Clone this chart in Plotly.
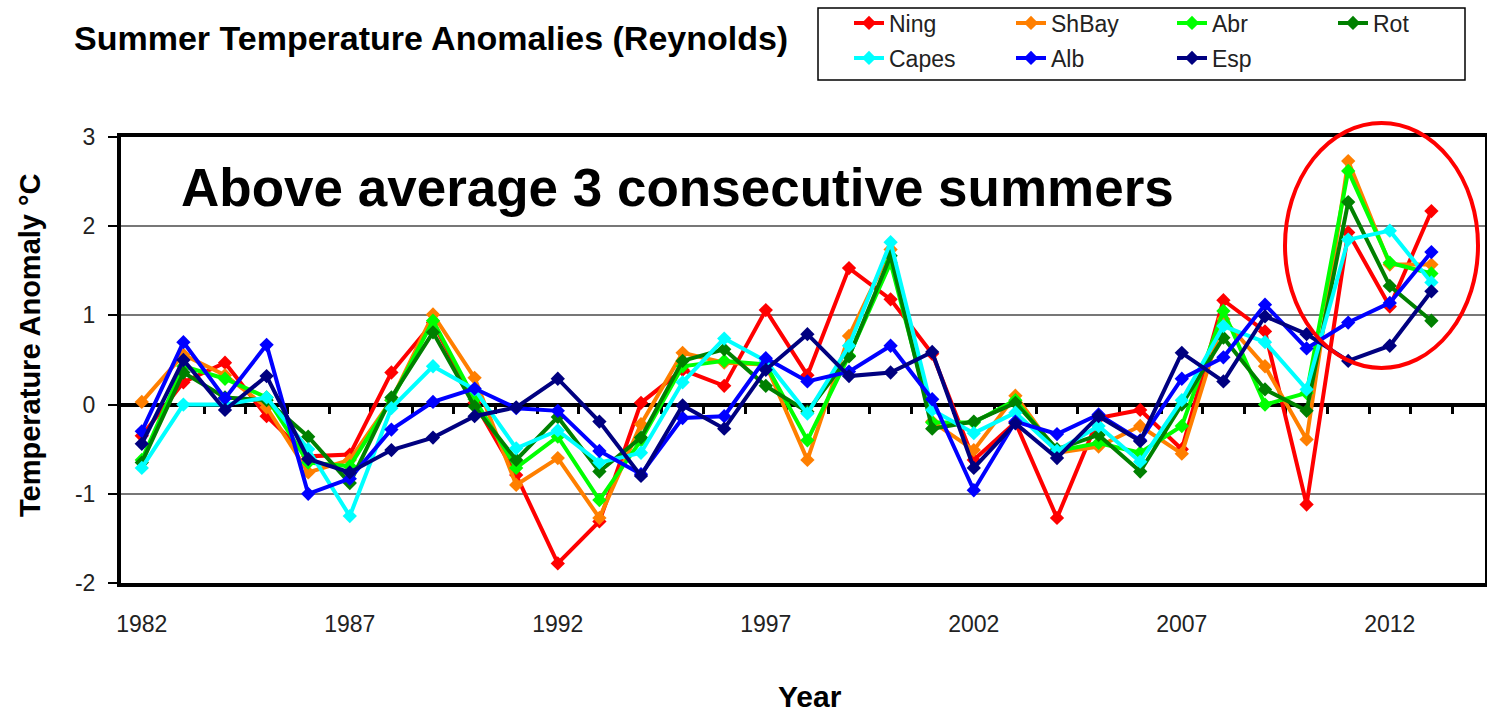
import plotly.graph_objects as go

YEARS = [1982, 1983, 1984, 1985, 1986, 1987, 1988, 1989, 1990, 1991, 1992,
         1993, 1994, 1995, 1996, 1997, 1998, 1999, 2000, 2001, 2002, 2003,
         2004, 2005, 2006, 2007, 2008, 2009, 2010, 2011, 2012, 2013]

NING = [-0.35, 0.25, 0.47, -0.13, -0.58, -0.56, 0.36, 0.92, 0.02, -0.79, -1.78,
        -1.31, 0.02, 0.39, 0.21, 1.06, 0.33, 1.53, 1.18, 0.57, -0.62, -0.20,
        -1.27, -0.15, -0.06, -0.50, 1.17, 0.82, -1.12, 1.93, 1.10, 2.17]
SHBAY = [0.03, 0.56, 0.33, -0.03, -0.76, -0.62, 0.05, 1.01, 0.30, -0.90, -0.60,
         -1.27, -0.22, 0.58, 0.47, 0.45, -0.62, 0.77, 1.74, -0.19, -0.51, 0.10,
         -0.54, -0.47, -0.24, -0.55, 0.96, 0.43, -0.39, 2.73, 1.57, 1.57]
ABR = [-0.62, 0.43, 0.29, 0.08, -0.65, -0.69, 0.05, 0.94, 0.06, -0.71, -0.36,
       -1.07, -0.40, 0.43, 0.49, 0.45, -0.40, 0.55, 1.59, -0.20, -0.20, 0.05,
       -0.52, -0.43, -0.54, -0.24, 1.05, 0.00, 0.13, 2.62, 1.59, 1.47]
ROT = [-0.65, 0.36, 0.08, 0.05, -0.36, -0.88, 0.08, 0.81, -0.02, -0.62, -0.14,
       -0.75, -0.37, 0.49, 0.62, 0.21, -0.08, 0.54, 1.67, -0.27, -0.19, 0.02,
       -0.50, -0.34, -0.75, 0.00, 0.75, 0.17, -0.07, 2.27, 1.33, 0.94]
CAPES = [-0.71, 0.00, 0.00, 0.08, -0.50, -1.25, -0.04, 0.43, 0.17, -0.49, -0.29,
         -0.65, -0.54, 0.25, 0.74, 0.49, -0.10, 0.66, 1.82, -0.06, -0.32, -0.09,
         -0.52, -0.24, -0.64, 0.05, 0.88, 0.70, 0.17, 1.85, 1.95, 1.37]
ALB = [-0.30, 0.70, 0.07, 0.67, -1.00, -0.83, -0.28, 0.03, 0.18, -0.04, -0.07,
       -0.52, -0.78, -0.15, -0.13, 0.52, 0.26, 0.37, 0.66, 0.06, -0.96, -0.19,
       -0.33, -0.11, -0.40, 0.29, 0.53, 1.12, 0.63, 0.92, 1.14, 1.71]
ESP = [-0.44, 0.50, -0.06, 0.32, -0.61, -0.76, -0.51, -0.37, -0.13, -0.03, 0.29,
       -0.19, -0.80, -0.01, -0.27, 0.39, 0.79, 0.32, 0.36, 0.59, -0.71, -0.21,
       -0.60, -0.13, -0.41, 0.58, 0.26, 0.99, 0.79, 0.49, 0.66, 1.27]

SERIES = [("Ning", NING, "#FF0000"), ("ShBay", SHBAY, "#FF7F00"),
          ("Abr", ABR, "#00FF00"), ("Rot", ROT, "#008000"),
          ("Capes", CAPES, "#00FFFF"), ("Alb", ALB, "#0000FF"),
          ("Esp", ESP, "#000080")]

X_TICKS = [1982, 1987, 1992, 1997, 2002, 2007, 2012]
Y_TICKS = [-2, -1, 0, 1, 2, 3]
Y_TICK_TEXT = ["-2", "-1", "0", "1", "2", "3"]
MID_TICKS = [y + 0.5 for y in YEARS]

FONT = "Liberation Sans, Arial, sans-serif"

W, H = 1487, 713
L, R, T, B = 121, 2, 137, 130
PW, PH = W - L - R, H - T - B


def px_x(p):
    return (p - L) / PW


def px_y(p):
    return (H - B - p) / PH


# legend slots (text start x, row centre y) in pixels
LEG_POS = [(893, 23), (1055, 23), (1216, 23), (1377, 23),
           (893, 58), (1055, 58), (1216, 58)]

fig = go.Figure()
legends = {}
for i, (name, vals, col) in enumerate(SERIES):
    lname = "legend" if i == 0 else "legend%d" % (i + 1)
    fig.add_trace(go.Scatter(
        x=YEARS, y=vals, name=name, mode="lines+markers",
        line=dict(color=col, width=4),
        marker=dict(symbol="diamond", size=11, color=col),
        legend=lname, showlegend=True,
    ))
    tx, ty = LEG_POS[i]
    legends[lname] = dict(
        x=px_x(tx - 44), y=px_y(ty), xanchor="left", yanchor="middle",
        bgcolor="rgba(0,0,0,0)", borderwidth=0,
        font=dict(size=23, color="#222", family=FONT),
    )

xr = [1981.5, 1981.5 + PW / 41.6]

fig.update_layout(
    width=W, height=H,
    margin=dict(l=L, r=R, t=T, b=B, pad=0, autoexpand=False),
    paper_bgcolor="white", plot_bgcolor="white",
    font=dict(family=FONT, color="#222"),
    showlegend=True,
    xaxis=dict(
        range=xr, tickvals=X_TICKS, ticktext=[str(v) for v in X_TICKS],
        showgrid=False, zeroline=False,
        showline=True, linecolor="black", linewidth=4, mirror=True,
        ticks="", ticklabelstandoff=17,
        tickfont=dict(size=23, color="#222", family=FONT),
    ),
    xaxis2=dict(
        range=xr, overlaying="x", anchor="free", position=0.4, side="bottom",
        tickvals=MID_TICKS, showticklabels=False,
        showgrid=False, zeroline=False,
        showline=True, linecolor="black", linewidth=4,
        ticks="outside", ticklen=7, tickwidth=3, tickcolor="black",
        layer="below traces",
    ),
    yaxis=dict(
        range=[-2, 3], tickvals=Y_TICKS, ticktext=Y_TICK_TEXT,
        showgrid=True, gridcolor="#777", gridwidth=1.5,
        zeroline=False,
        showline=True, linecolor="black", linewidth=4, mirror=True,
        ticks="outside", ticklen=9, tickwidth=2, tickcolor="black",
        ticklabelstandoff=8,
        tickfont=dict(size=23, color="#222", family=FONT),
    ),
    **legends,
)

# helper so xaxis2 exists
fig.add_trace(go.Scatter(x=[YEARS[0]], y=[None], xaxis="x2", showlegend=False,
                         hoverinfo="skip", mode="lines"))

fig.add_annotation(
    text="<b>Summer Temperature Anomalies (Reynolds)</b>",
    xref="paper", yref="paper", x=px_x(72), y=px_y(38),
    xanchor="left", yanchor="middle", showarrow=False,
    font=dict(size=34, color="black", family=FONT),
)
fig.add_annotation(
    text="<b>Above average 3 consecutive summers</b>",
    xref="paper", yref="paper", x=px_x(179), y=px_y(187),
    xanchor="left", yanchor="middle", showarrow=False,
    font=dict(size=53, color="black", family=FONT),
)
fig.add_annotation(
    text="<b>Temperature Anomaly °C</b>",
    xref="paper", yref="paper", x=px_x(30), y=px_y(345),
    xanchor="center", yanchor="middle", textangle=-90, showarrow=False,
    font=dict(size=29, color="black", family=FONT),
)
fig.add_annotation(
    text="<b>Year</b>",
    xref="paper", yref="paper", x=px_x(810), y=px_y(696),
    xanchor="center", yanchor="middle", showarrow=False,
    font=dict(size=30, color="black", family=FONT),
)

# legend frame
fig.add_shape(
    type="rect", xref="paper", yref="paper",
    x0=px_x(818), x1=px_x(1465), y0=px_y(80), y1=px_y(8),
    line=dict(color="black", width=1.5), fillcolor="rgba(0,0,0,0)",
)
# highlight ellipse
fig.add_shape(
    type="circle", xref="paper", yref="paper",
    x0=px_x(1285), x1=px_x(1478), y0=px_y(368), y1=px_y(123),
    line=dict(color="#FF0000", width=4),
)

fig.write_html(
    "out.html",
    config={"displayModeBar": False},
    post_script="document.body.style.margin='0';document.body.style.overflow='hidden';",
)
